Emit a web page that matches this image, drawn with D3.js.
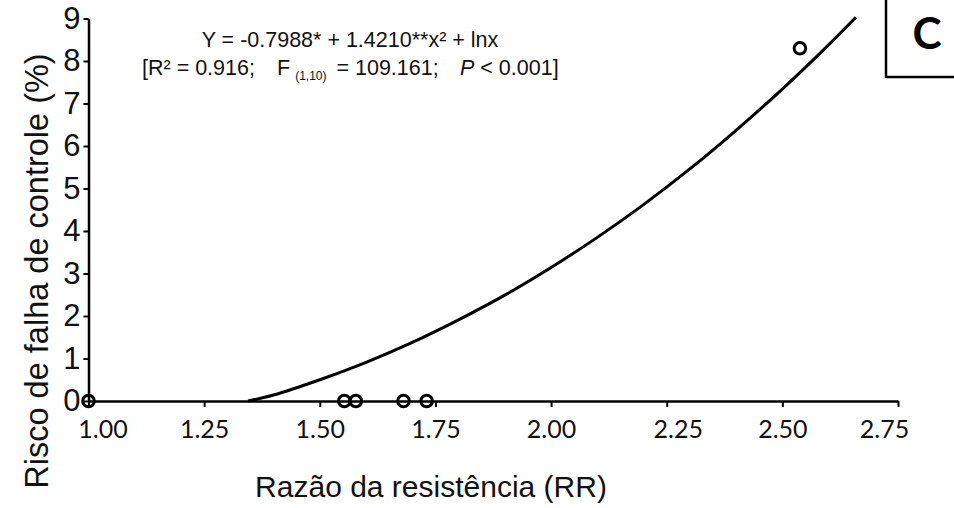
<!DOCTYPE html>
<html><head><meta charset="utf-8">
<script src="https://cdn.jsdelivr.net/npm/d3@7"></script>
<style>
html,body{margin:0;padding:0;background:#fff;}
svg{display:block;}
</style></head>
<body>
<svg id="chart" width="954" height="508"></svg>
<script>
// ---- data ----
const xTicks = [1.00, 1.25, 1.50, 1.75, 2.00, 2.25, 2.50, 2.75];
const yTicks = [0, 1, 2, 3, 4, 5, 6, 7, 8, 9];
// observed points (resistance ratio vs control failure risk)
const obsRR   = [1.00, 1.553, 1.578, 1.681, 1.731, 2.538];
const obsRisk = [0, 0, 0, 0, 0, 8.30];
// fitted curve
const fitRR   = [1.345, 1.40, 1.50, 1.60, 1.70, 1.80, 1.90, 2.00, 2.10, 2.20, 2.30, 2.40, 2.50, 2.60, 2.659];
const fitRisk = [0.00, 0.14, 0.50, 0.91, 1.38, 1.91, 2.49, 3.14, 3.85, 4.62, 5.46, 6.37, 7.34, 8.38, 9.03];
const equationLine1 = "Y = -0.7988* + 1.4210**x² + lnx";
const panelLetter = "C";
const xTitle = "Razão da resistência (RR)";
const yTitle = "Risco de falha de controle (%)";

// ---- drawing ----
const svg = d3.select("#chart");
const x = d3.scaleLinear().domain([1.00, 2.75]).range([88.5, 898]);
const y = d3.scaleLinear().domain([0, 9]).range([401, 18.5]);

const xLabelShift = {"1.00": 14, "2.25": 11, "2.75": -14};

const gx = svg.append("g").attr("transform", `translate(0,${y(0)})`)
  .call(d3.axisBottom(x).tickValues(xTicks).tickFormat(d3.format(".2f"))
        .tickSize(6).tickSizeOuter(0).tickPadding(13));
gx.select(".domain").attr("stroke", "#000").attr("stroke-width", 2.5);
gx.selectAll(".tick line").attr("stroke", "#000").attr("stroke-width", 2);
gx.selectAll(".tick text")
  .attr("font-family", "Lato, 'Open Sans', sans-serif")
  .attr("font-size", 25).attr("fill", "#111")
  .attr("dx", d => xLabelShift[d3.format(".2f")(d)] || 0);

const gy = svg.append("g").attr("transform", `translate(${x(1.00)},0)`)
  .call(d3.axisLeft(y).tickValues(yTicks).tickFormat(d3.format("d"))
        .tickSize(5).tickSizeOuter(0).tickPadding(3));
gy.select(".domain").attr("stroke", "#000").attr("stroke-width", 2.5);
gy.selectAll(".tick line").attr("stroke", "#000").attr("stroke-width", 2);
gy.selectAll(".tick text")
  .attr("font-family", "'Liberation Sans', Arial, sans-serif")
  .attr("font-size", 31).attr("fill", "#111");

// fitted curve
const line = d3.line().x(d => x(d[0])).y(d => y(d[1])).curve(d3.curveCatmullRom.alpha(0.5));
svg.append("path").datum(d3.zip(fitRR, fitRisk))
  .attr("d", line).attr("fill", "none").attr("stroke", "#000").attr("stroke-width", 3);

// observed points
svg.append("g").selectAll("circle").data(d3.zip(obsRR, obsRisk)).join("circle")
  .attr("cx", d => x(d[0])).attr("cy", d => y(d[1])).attr("r", 5.8)
  .attr("fill", "none").attr("stroke", "#000").attr("stroke-width", 3);

// equation text
const eq = svg.append("g").attr("font-family", "'Liberation Sans', Arial, sans-serif")
  .attr("fill", "#111").attr("font-size", 21.5);
eq.append("text").attr("x", 350).attr("y", 47).attr("text-anchor", "middle").attr("fill", "#111").text(equationLine1);
const t2 = eq.append("text").attr("y", 75).attr("fill", "#111").attr("xml:space", "preserve");
t2.append("tspan").attr("x", 142).attr("fill", "#111").text("[R² = 0.916;");
t2.append("tspan").attr("x", 277).attr("fill", "#111").text("F");
t2.append("tspan").attr("font-size", 12).attr("dx", 5).attr("dy", 5).attr("fill", "#111").text("(1,10)");
t2.append("tspan").attr("dy", -5).attr("dx", 4).attr("fill", "#111").text(" = 109.161;");
t2.append("tspan").attr("x", 460).attr("font-style", "italic").attr("fill", "#111").text("P");
t2.append("tspan").attr("fill", "#111").text(" < 0.001]");

// panel letter box
svg.append("rect").attr("x", 886).attr("y", -5).attr("width", 80).attr("height", 82)
  .attr("fill", "none").attr("stroke", "#000").attr("stroke-width", 2.5);
svg.append("text").attr("x", 927).attr("y", 49).attr("text-anchor", "middle")
  .attr("font-family", "Lato, 'Open Sans', sans-serif").attr("font-weight", "bold")
  .attr("font-size", 44).attr("fill", "#000").text(panelLetter);

// axis titles
svg.append("text").attr("x", 431).attr("y", 497).attr("text-anchor", "middle")
  .attr("font-family", "'Liberation Sans', Arial, sans-serif").attr("font-size", 30)
  .attr("fill", "#111").text(xTitle);
svg.append("text").attr("transform", "translate(48,271) rotate(-90)").attr("text-anchor", "middle")
  .attr("font-family", "'Liberation Sans', Arial, sans-serif").attr("font-size", 32.5)
  .attr("fill", "#111").text(yTitle);
</script>
</body></html>
